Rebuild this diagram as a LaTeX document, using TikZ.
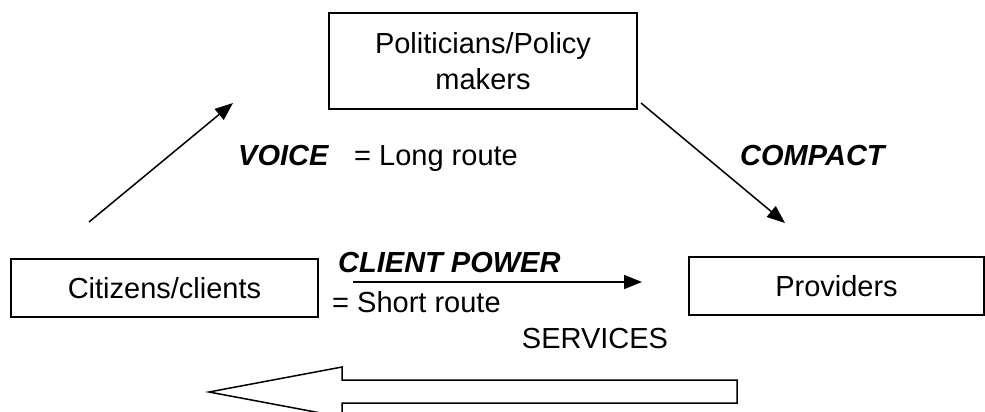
\documentclass[tikz,border=0pt]{standalone}
\usepackage{fontspec}
\setmainfont{Liberation Sans}
\usetikzlibrary{arrows.meta}
\begin{document}
\begin{tikzpicture}[x=1pt,y=-1pt,
  every node/.style={font=\fontsize{29}{36}\selectfont},
  actor/.style={draw,line width=1.5pt,inner sep=0pt,align=center},
  route/.style={line width=1.5pt,-{Triangle[length=18pt,width=14pt]}},
  label/.style={inner sep=0pt,anchor=base west},
  heading/.style={label,font=\fontsize{29}{36}\selectfont\bfseries\itshape}]
\useasboundingbox (0,0) rectangle (985,412);
\clip (0,0) rectangle (985,412);

% the three actors
\node[actor,minimum width=308pt,minimum height=96pt] (pol) at (483,61)
  {Politicians/Policy\\makers};
\node[actor,minimum width=307pt,minimum height=58pt] (cit) at (164.5,288)
  {Citizens/clients};
\node[actor,minimum width=295pt,minimum height=58pt] (prov) at (836.5,286)
  {Providers};

% free ends of the routes
\coordinate (voiceS) at (89,222);
\coordinate (voiceE) at (233,103);
\coordinate (compS) at (641,103);
\coordinate (compE) at (785,223);
\coordinate (clientS) at (353,282);
\coordinate (clientE) at (642,282);

% long route: voice and compact
\draw[route] (voiceS) -- (voiceE);
\draw[route] (compS) -- (compE);
\node[heading] (voice) at (238,165) {VOICE};
\node[label] (long) at (354,165) {= Long route};
\node[heading] (compact) at (740,165) {COMPACT};

% short route: client power
\draw[route] (clientS) -- (clientE);
\node[heading] (client) at (338,272) {CLIENT POWER};
\node[label] (short) at (332,312) {= Short route};

% services flowing back to citizens
\node[inner sep=0pt,anchor=base] (serv) at (595,348) {SERVICES};
\draw[line width=1.5pt,fill=white,line join=miter]
  (209,392) -- (342,367) -- (342,380) -- (737,380) -- (737,403)
  -- (342,403) -- (342,417) -- cycle;
\end{tikzpicture}
\end{document}
